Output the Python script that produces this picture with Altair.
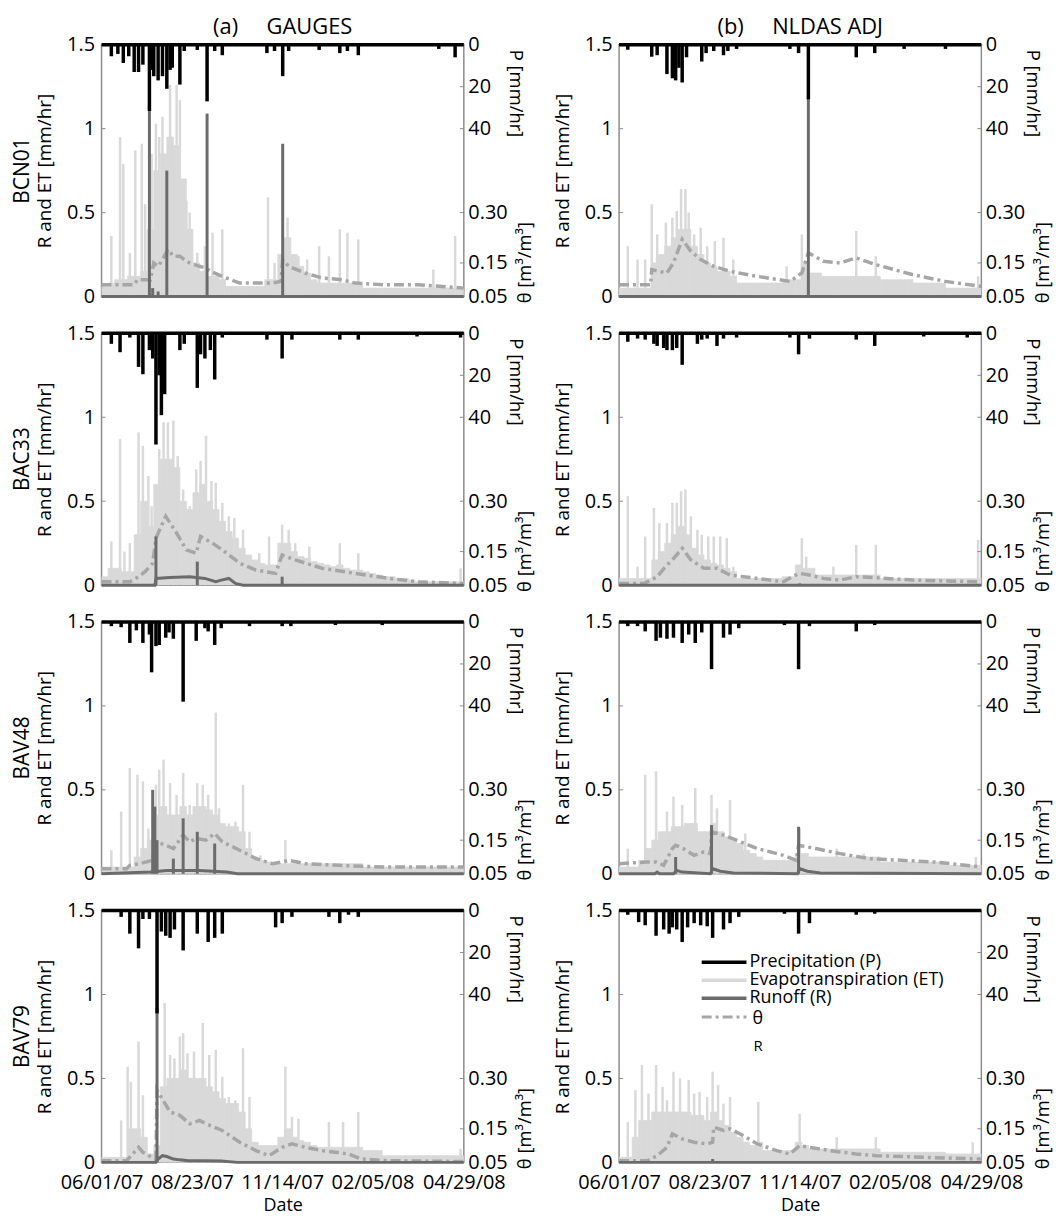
import altair as alt
import pandas as pd

FONT = "Open Sans"
SITES = ["BCN01", "BAC33", "BAV48", "BAV79"]
SOURCES = ["GAUGES", "NLDAS ADJ"]
COL_TAGS = ["(a)", "(b)"]
TICK_DAYS = [0, 83, 166, 249, 333]
TICK_LABELS = ["06/01/07", "08/23/07", "11/14/07", "02/05/08", "04/29/08"]
LEFT_TICKS = [0, 0.5, 1, 1.5]
RIGHT_TICK_POS = [1.5, 1.25, 1.0, 0.5, 0.2, 0.0]
RIGHT_TICK_LABELS = ["0", "20", "40", "0.30", "0.15", "0.05"]
ET_BIN_DAYS = 6

C_P = "#000000"
C_ET = "#d9d9d9"
C_R = "#6b6b6b"
C_TH = "#a6a6a6"
C_FRAME = "#8c8c8c"

# ---------------- BCN01 / GAUGES ----------------
BCN01_G_P_DAY = [9, 15, 20, 25, 30, 34, 38, 44, 46, 48, 52, 56, 60, 63, 65, 72, 76, 88, 97, 104, 111, 152, 159, 166.5, 172, 200, 219, 226, 236, 310, 325]
BCN01_G_P_MM = [5.5, 4.4, 8.7, 5.5, 13, 13, 9.5, 31.6, 12, 15, 17, 15, 21, 12, 11, 19, 3, 2.5, 27, 3, 5, 4, 3, 15, 3, 2.5, 4, 3, 5, 2, 6]
BCN01_G_ET_ENV = [0.06, 0.08, 0.1, 0.1, 0.12, 0.12, 0.15, 0.4, 0.75, 0.85, 0.95, 0.9, 0.7, 0.4, 0.2, 0.15, 0.12, 0.12, 0.1,
                  0.06, 0.06, 0.06, 0.06, 0.06, 0.06, 0.1, 0.1, 0.25, 0.35, 0.25, 0.18, 0.14, 0.1,
                  0.08, 0.08, 0.08, 0.08, 0.08, 0.08, 0.08,
                  0.05, 0.05, 0.05, 0.05, 0.05, 0.05, 0.05, 0.05, 0.05, 0.05, 0.05, 0.05, 0.05, 0.05, 0.05, 0.05]
BCN01_G_ET_SPK_DAY = [9, 17, 20, 26, 31, 37, 40, 46, 50, 53, 56, 63, 69, 72, 78, 81, 88, 95, 102, 111, 153, 159, 171, 181, 189, 200, 209, 219, 226, 236, 305, 325]
BCN01_G_ET_SPK = [0.36, 0.95, 0.79, 0.26, 0.87, 0.91, 0.55, 0.85, 1.03, 0.95, 1.07, 1.26, 1.26, 1.17, 0.57, 0.5, 0.26, 0.3, 0.38, 0.4, 0.59, 0.2, 0.47, 0.24, 0.22, 0.3, 0.24, 0.4, 0.38, 0.34, 0.16, 0.36]
BCN01_G_R_SPK_DAY = [44, 47, 52, 60, 97, 166.5]
BCN01_G_R_SPK = [1.15, 0.05, 0.03, 0.75, 1.09, 0.91]
BCN01_G_R_DAY = [0, 333]
BCN01_G_R = [0, 0]
BCN01_G_TH_DAY = [0, 30, 33, 45, 48, 52, 56, 61, 66, 72, 76, 81, 90, 96, 100, 111, 127, 157, 165, 166.5, 172, 187, 203, 221, 233, 260, 291, 333]
BCN01_G_TH = [0.085, 0.085, 0.1, 0.1, 0.15, 0.14, 0.16, 0.19, 0.17, 0.17, 0.16, 0.15, 0.14, 0.135, 0.125, 0.11, 0.09, 0.09, 0.095, 0.16, 0.14, 0.12, 0.105, 0.1, 0.09, 0.085, 0.085, 0.075]

# ---------------- BCN01 / NLDAS ADJ ----------------
BCN01_N_P_DAY = [8, 30, 35, 44, 49, 52, 55, 58, 62, 76, 80, 87, 96, 100, 108, 157, 165, 174, 218, 235, 262, 300]
BCN01_N_P_MM = [2.4, 5.7, 5, 14, 16, 17, 11, 18, 6, 8, 4, 3, 5, 3, 2, 2, 4, 26, 6, 4, 2, 2]
BCN01_N_ET_ENV = [0.05, 0.05, 0.05, 0.05, 0.05, 0.2, 0.25, 0.3, 0.35, 0.4, 0.4, 0.3, 0.25, 0.2, 0.18, 0.15, 0.15, 0.12,
                  0.08, 0.08, 0.08, 0.08, 0.08, 0.08, 0.08, 0.1, 0.1, 0.1, 0.2, 0.14, 0.14,
                  0.12, 0.12, 0.12, 0.12, 0.12, 0.12, 0.12, 0.12, 0.12,
                  0.1, 0.1, 0.1, 0.1, 0.1, 0.08, 0.08, 0.08, 0.08, 0.08, 0.05, 0.05, 0.05, 0.05, 0.05, 0.05]
BCN01_N_ET_SPK_DAY = [8, 17, 24, 30, 35, 43, 49, 53, 57, 61, 64, 69, 75, 81, 88, 96, 105, 154, 168, 218, 236, 330]
BCN01_N_ET_SPK = [0.3, 0.22, 0.22, 0.55, 0.37, 0.44, 0.47, 0.51, 0.64, 0.64, 0.5, 0.37, 0.41, 0.3, 0.33, 0.35, 0.22, 0.18, 0.37, 0.39, 0.24, 0.12]
BCN01_N_R_SPK_DAY = [174]
BCN01_N_R_SPK = [1.18]
BCN01_N_R_DAY = [0, 333]
BCN01_N_R = [0, 0]
BCN01_N_TH_DAY = [0, 29, 30, 44, 50, 58, 66, 75, 87, 102, 127, 157, 168, 174, 188, 203, 218, 236, 270, 300, 333]
BCN01_N_TH = [0.085, 0.085, 0.13, 0.12, 0.15, 0.22, 0.185, 0.16, 0.14, 0.125, 0.11, 0.095, 0.12, 0.18, 0.155, 0.15, 0.165, 0.145, 0.115, 0.095, 0.08]

# ---------------- BAC33 / GAUGES ----------------
BAC33_G_P_DAY = [9, 17, 26, 34, 38, 44, 47, 50, 53, 55, 58, 72, 76, 88, 91, 95, 100, 104, 111, 152, 166, 175, 219, 236, 290, 330]
BAC33_G_P_MM = [5, 9, 2, 16, 19.5, 8, 12, 53, 20, 39, 29, 8, 5, 26, 10, 12, 8, 22, 2, 3, 12, 3, 3, 3, 1.5, 2]
BAC33_G_ET_ENV = [0.05, 0.1, 0.1, 0.08, 0.08, 0.3, 0.5, 0.35, 0.6, 0.75, 0.75, 0.7, 0.5, 0.45, 0.55, 0.6, 0.5, 0.45, 0.38, 0.32,
                  0.28, 0.22, 0.18, 0.15, 0.13, 0.12, 0.12, 0.25, 0.25, 0.2, 0.17, 0.16, 0.14, 0.13, 0.12, 0.11, 0.12, 0.1, 0.09, 0.09,
                  0.08, 0.07, 0.06, 0.05, 0.05, 0.04, 0.04, 0.03, 0.02, 0.02, 0.02, 0.02, 0.02, 0.02, 0.02, 0.02]
BAC33_G_ET_SPK_DAY = [9, 17, 21, 26, 34, 38, 43, 46, 53, 57, 61, 66, 70, 75, 81, 87, 91, 96, 101, 105, 111, 117, 122, 130, 145, 154, 166, 172, 178, 191, 219, 236, 330]
BAC33_G_ET_SPK = [0.26, 0.87, 0.2, 0.25, 0.91, 0.83, 0.65, 0.47, 0.81, 0.97, 0.97, 0.98, 0.77, 0.57, 0.47, 0.69, 0.74, 0.89, 0.62, 0.61, 0.49, 0.41, 0.4, 0.33, 0.19, 0.29, 0.36, 0.33, 0.25, 0.23, 0.25, 0.19, 0.1]
BAC33_G_R_SPK_DAY = [50, 88, 166]
BAC33_G_R_SPK = [0.29, 0.14, 0.05]
BAC33_G_R_DAY = [0, 49, 50, 63, 81, 95, 105, 110, 117, 123, 130, 333]
BAC33_G_R = [0, 0, 0.04, 0.045, 0.05, 0.04, 0.02, 0.03, 0.04, 0.01, 0, 0]
BAC33_G_TH_DAY = [0, 26, 34, 40, 47, 50, 59, 69, 78, 87, 91, 102, 111, 127, 142, 160, 166, 178, 203, 233, 264, 291, 333]
BAC33_G_TH = [0.06, 0.06, 0.075, 0.09, 0.115, 0.19, 0.255, 0.205, 0.155, 0.145, 0.195, 0.175, 0.155, 0.115, 0.095, 0.085, 0.14, 0.125, 0.1, 0.085, 0.07, 0.06, 0.055]

# ---------------- BAC33 / NLDAS ADJ ----------------
BAC33_N_P_DAY = [8, 17, 24, 32, 35, 41, 44, 49, 53, 58, 72, 76, 81, 90, 96, 108, 157, 165, 175, 218, 235, 280, 320]
BAC33_N_P_MM = [4, 2.5, 3, 5, 6, 7, 8, 8, 7, 15, 5, 3, 2.5, 6, 2.5, 2, 2, 10, 2.5, 3, 6, 1.5, 2]
BAC33_N_ET_ENV = [0.04, 0.04, 0.04, 0.04, 0.04, 0.15, 0.2, 0.25, 0.3, 0.35, 0.3, 0.22, 0.18, 0.15, 0.13, 0.12, 0.1, 0.08,
                  0.04, 0.04, 0.04, 0.04, 0.04, 0.04, 0.04, 0.05, 0.05, 0.12, 0.1, 0.1,
                  0.06, 0.06, 0.06, 0.06, 0.06, 0.06, 0.06, 0.06, 0.06, 0.06,
                  0.04, 0.04, 0.04, 0.04, 0.04, 0.04, 0.04, 0.04, 0.04, 0.04, 0.04, 0.04, 0.04, 0.04, 0.04, 0.04]
BAC33_N_ET_SPK_DAY = [8, 17, 24, 32, 37, 44, 49, 53, 57, 61, 66, 72, 76, 82, 87, 93, 99, 105, 168, 172, 197, 218, 236, 330]
BAC33_N_ET_SPK = [0.53, 0.11, 0.29, 0.46, 0.37, 0.37, 0.49, 0.49, 0.56, 0.57, 0.41, 0.33, 0.3, 0.29, 0.29, 0.29, 0.28, 0.11, 0.28, 0.17, 0.11, 0.24, 0.24, 0.27]
BAC33_N_R_SPK_DAY = [166]
BAC33_N_R_SPK = [0.01]
BAC33_N_R_DAY = [0, 333]
BAC33_N_R = [0, 0]
BAC33_N_TH_DAY = [0, 23, 35, 44, 49, 58, 66, 78, 90, 102, 127, 151, 159, 166, 175, 188, 203, 218, 233, 270, 333]
BAC33_N_TH = [0.055, 0.055, 0.075, 0.11, 0.125, 0.16, 0.125, 0.1, 0.1, 0.08, 0.07, 0.06, 0.075, 0.085, 0.08, 0.07, 0.065, 0.075, 0.0725, 0.065, 0.06]

# ---------------- BAV48 / GAUGES ----------------
BAV48_G_P_DAY = [9, 18, 26, 32, 38, 44, 46, 50, 53, 59, 62, 66, 75, 87, 95, 98, 104, 110, 136, 166, 174, 215, 258]
BAV48_G_P_MM = [2, 2.5, 10, 4, 10, 6, 24, 11.5, 11, 7.5, 5, 8, 38, 9, 3, 4.5, 11, 3, 2, 2, 2, 1.5, 1.5]
BAV48_G_ET_ENV = [0.04, 0.04, 0.04, 0.04, 0.04, 0.1, 0.15, 0.2, 0.35, 0.4, 0.35, 0.35, 0.4, 0.35, 0.4, 0.4, 0.38, 0.35, 0.3, 0.28,
                  0.28, 0.25, 0.15, 0.1, 0.08, 0.07,
                  0.06, 0.06, 0.06, 0.06, 0.06, 0.06, 0.06, 0.06, 0.06, 0.06, 0.06, 0.06, 0.06, 0.06,
                  0.04, 0.04, 0.04, 0.04, 0.04, 0.04, 0.04, 0.04, 0.04, 0.04, 0.04, 0.04, 0.04, 0.04, 0.04, 0.04]
BAV48_G_ET_SPK_DAY = [9, 18, 26, 33, 38, 43, 50, 53, 57, 63, 69, 75, 81, 88, 93, 98, 105, 108, 117, 123, 130, 136, 146, 169]
BAV48_G_ET_SPK = [0.14, 0.37, 0.63, 0.59, 0.55, 0.27, 0.53, 0.62, 0.68, 0.54, 0.47, 0.6, 0.41, 0.54, 0.53, 0.47, 0.96, 0.39, 0.3, 0.31, 0.53, 0.25, 0.11, 0.2]
BAV48_G_R_SPK_DAY = [47, 49, 51, 66, 75, 88, 104]
BAV48_G_R_SPK = [0.5, 0.4, 0.2, 0.09, 0.33, 0.25, 0.18]
BAV48_G_R_DAY = [0, 45, 60, 90, 115, 125, 333]
BAV48_G_R = [0, 0.01, 0.02, 0.02, 0.01, 0, 0]
BAV48_G_TH_DAY = [0, 23, 26, 35, 47, 50, 59, 66, 75, 81, 87, 96, 104, 111, 127, 142, 157, 166, 172, 187, 218, 260, 333]
BAV48_G_TH = [0.065, 0.065, 0.075, 0.08, 0.09, 0.145, 0.135, 0.125, 0.165, 0.145, 0.155, 0.15, 0.17, 0.145, 0.12, 0.095, 0.08, 0.085, 0.09, 0.08, 0.075, 0.07, 0.07]

# ---------------- BAV48 / NLDAS ADJ ----------------
BAV48_N_P_DAY = [8, 17, 24, 34, 38, 44, 50, 58, 64, 70, 76, 85, 96, 102, 110, 152, 165, 175, 218, 235]
BAV48_N_P_MM = [2, 2, 4.5, 9, 7.5, 8, 7.5, 10, 6, 10, 5, 22.5, 7.5, 6, 3, 1.5, 22.5, 2, 4.5, 1.5]
BAV48_N_ET_ENV = [0.04, 0.04, 0.04, 0.08, 0.15, 0.2, 0.25, 0.25, 0.28, 0.28, 0.3, 0.3, 0.25, 0.25, 0.3, 0.25, 0.22, 0.2, 0.18, 0.14,
                  0.12, 0.1, 0.08, 0.08, 0.08, 0.08, 0.08, 0.12, 0.12,
                  0.1, 0.1, 0.1, 0.1, 0.1, 0.1, 0.1, 0.1, 0.1, 0.1, 0.1,
                  0.07, 0.07, 0.07, 0.07, 0.07, 0.07, 0.07, 0.07, 0.07, 0.07, 0.05, 0.05, 0.05, 0.05, 0.05, 0.05]
BAV48_N_ET_SPK_DAY = [8, 24, 34, 44, 50, 58, 70, 85, 90, 96, 102, 116, 166, 200, 225, 328]
BAV48_N_ET_SPK = [0.15, 0.59, 0.61, 0.37, 0.46, 0.41, 0.51, 0.47, 0.39, 0.25, 0.44, 0.24, 0.27, 0.15, 0.12, 0.1]
BAV48_N_R_SPK_DAY = [52, 85, 165]
BAV48_N_R_SPK = [0.1, 0.29, 0.28]
BAV48_N_R_DAY = [0, 33, 35, 37, 50, 53, 58, 84, 86, 93, 105, 164, 166, 173, 185, 333]
BAV48_N_R = [0, 0, 0.01, 0, 0, 0.02, 0.01, 0, 0.03, 0.015, 0.005, 0, 0.03, 0.015, 0.005, 0]
BAV48_N_TH_DAY = [0, 26, 34, 41, 49, 52, 59, 69, 78, 84, 85, 96, 108, 127, 151, 163, 165, 181, 203, 230, 290, 333]
BAV48_N_TH = [0.08, 0.085, 0.085, 0.075, 0.125, 0.135, 0.125, 0.105, 0.115, 0.11, 0.175, 0.165, 0.15, 0.125, 0.105, 0.09, 0.135, 0.125, 0.11, 0.095, 0.085, 0.07]

# ---------------- BAV79 / GAUGES ----------------
BAV79_G_P_DAY = [18, 26, 34, 38, 44, 51, 55, 59, 63, 67, 75, 88, 98, 104, 111, 160, 166, 175, 209, 219, 227, 236]
BAV79_G_P_MM = [3, 11, 18, 4, 4, 49, 10, 12, 13, 9, 19, 11, 15, 13, 11, 8, 6, 3, 3, 6, 2, 3]
BAV79_G_ET_ENV = [0.03, 0.03, 0.03, 0.03, 0.2, 0.2, 0.15, 0.05, 0.1, 0.45, 0.5, 0.5, 0.55, 0.5, 0.5, 0.5, 0.45, 0.42, 0.38, 0.35,
                  0.35, 0.3, 0.2, 0.12, 0.1, 0.1, 0.1, 0.15, 0.2, 0.15, 0.13, 0.12, 0.1,
                  0.09, 0.09, 0.09, 0.09, 0.09, 0.09, 0.09, 0.07, 0.07, 0.07,
                  0.04, 0.04, 0.04, 0.04, 0.04, 0.04, 0.04, 0.04, 0.04, 0.04, 0.04, 0.04, 0.04]
BAV79_G_ET_SPK_DAY = [18, 24, 27, 34, 38, 58, 63, 67, 72, 75, 79, 85, 93, 99, 105, 111, 117, 123, 130, 136, 169, 175, 181, 209, 222, 236, 330]
BAV79_G_ET_SPK = [0.25, 0.57, 0.48, 0.72, 0.4, 0.95, 0.64, 0.62, 0.75, 0.77, 0.65, 0.66, 0.83, 0.64, 0.67, 0.51, 0.39, 0.37, 0.68, 0.39, 0.57, 0.27, 0.26, 0.24, 0.24, 0.3, 0.08]
BAV79_G_R_SPK_DAY = [51]
BAV79_G_R_SPK = [0.92]
BAV79_G_R_DAY = [0, 50, 52, 56, 60, 66, 72, 80, 95, 110, 125, 333]
BAV79_G_R = [0, 0, 0.02, 0.04, 0.035, 0.02, 0.015, 0.01, 0.01, 0.008, 0, 0]
BAV79_G_TH_DAY = [0, 23, 30, 34, 38, 49, 50, 51, 63, 72, 81, 90, 96, 111, 127, 142, 154, 166, 175, 187, 203, 227, 239, 264, 333]
BAV79_G_TH = [0.055, 0.055, 0.08, 0.095, 0.08, 0.06, 0.06, 0.265, 0.2, 0.19, 0.165, 0.175, 0.165, 0.145, 0.11, 0.085, 0.07, 0.095, 0.105, 0.095, 0.085, 0.075, 0.06, 0.055, 0.0525]

# ---------------- BAV79 / NLDAS ADJ ----------------
BAV79_N_P_DAY = [8, 18, 24, 34, 41, 46, 49, 53, 58, 63, 69, 75, 81, 86, 96, 102, 110, 152, 165, 175, 218, 235]
BAV79_N_P_MM = [2, 5.5, 7, 12, 9, 11, 8, 9, 15, 8, 6, 7, 7.5, 13, 9, 6, 3, 1.5, 11, 6, 2, 1.5]
BAV79_N_ET_ENV = [0.03, 0.03, 0.15, 0.25, 0.25, 0.3, 0.3, 0.3, 0.3, 0.3, 0.3, 0.28, 0.28, 0.25, 0.3, 0.25, 0.22, 0.18, 0.15, 0.12,
                  0.1, 0.12, 0.07, 0.07, 0.07, 0.07, 0.07, 0.12, 0.1,
                  0.08, 0.08, 0.08, 0.08, 0.08, 0.08, 0.08, 0.08, 0.08, 0.08, 0.08,
                  0.06, 0.06, 0.06, 0.06, 0.06, 0.06, 0.06, 0.06, 0.06, 0.06, 0.05, 0.05, 0.05, 0.05, 0.05, 0.05]
BAV79_N_ET_SPK_DAY = [8, 15, 21, 27, 34, 40, 44, 50, 56, 64, 69, 74, 81, 86, 91, 96, 102, 128, 166, 200, 236, 325]
BAV79_N_ET_SPK = [0.24, 0.43, 0.58, 0.41, 0.58, 0.45, 0.37, 0.54, 0.5, 0.49, 0.41, 0.42, 0.39, 0.54, 0.46, 0.35, 0.39, 0.36, 0.29, 0.15, 0.15, 0.12]
BAV79_N_R_SPK_DAY = [86]
BAV79_N_R_SPK = [0.02]
BAV79_N_R_DAY = [0, 333]
BAV79_N_R = [0, 0]
BAV79_N_TH_DAY = [0, 26, 35, 44, 49, 58, 69, 81, 86, 87, 96, 102, 114, 127, 145, 157, 166, 175, 194, 218, 236, 280, 333]
BAV79_N_TH = [0.055, 0.055, 0.07, 0.095, 0.135, 0.12, 0.11, 0.105, 0.11, 0.155, 0.145, 0.15, 0.13, 0.105, 0.085, 0.075, 0.1, 0.095, 0.085, 0.075, 0.07, 0.065, 0.06]

G = globals()

W, H = 364, 253
XS = alt.Scale(domain=[TICK_DAYS[0], TICK_DAYS[-1]], nice=False, zero=False)
YS = alt.Scale(domain=[0, 1.5], nice=False, zero=False)

XEXPR = "".join(f"datum.value == {d} ? '{l}' : " for d, l in zip(TICK_DAYS, TICK_LABELS)) + "''"
REXPR = "".join(f"datum.value == {p} ? '{l}' : " for p, l in zip(RIGHT_TICK_POS, RIGHT_TICK_LABELS)) + "''"


def one():
    return alt.Data(values=[{"k": 1}])


def text_at(txt, x, y, angle=0, size=19, align="center", baseline="middle"):
    kw = dict(text=txt, fontSize=size, align=align, baseline=baseline, font=FONT, color="black")
    if angle:
        kw["angle"] = angle
    return alt.Chart(one()).mark_text(**kw).encode(x=alt.value(x), y=alt.value(y))


def panel(site, col, row):
    key = f"{site}_{'G' if col == 0 else 'N'}"
    bottom = row == len(SITES) - 1

    if bottom:
        xaxis = alt.Axis(values=TICK_DAYS, labelExpr=XEXPR, title="Date", labelFlush=False,
                         labelOverlap=False, labelPadding=10, titleX=W / 2, titleY=43,
                         titleFontSize=18, titleBaseline="middle", titleAlign="center")
    else:
        xaxis = alt.Axis(values=TICK_DAYS, labels=False, title=None)

    def X(f):
        return alt.X(f, type="quantitative", scale=XS, axis=xaxis)

    yaxis_left = alt.Axis(values=LEFT_TICKS, format="~g", title="R and ET [mm/hr]",
                          titleX=-57, titleY=H / 2, titleAngle=270, titleAlign="center",
                          titleBaseline="middle", labelPadding=7)
    yaxis_right = alt.Axis(orient="right", values=RIGHT_TICK_POS, labelExpr=REXPR,
                           title=None, labelPadding=4)

    env = G[key + "_ET_ENV"]
    df_env = pd.DataFrame({
        "start": [i * ET_BIN_DAYS for i in range(len(env))],
        "end": [(i + 1) * ET_BIN_DAYS for i in range(len(env))],
        "et": env,
    })
    df_env["base"] = 0.0
    df_ets = pd.DataFrame({"day": G[key + "_ET_SPK_DAY"], "et": G[key + "_ET_SPK"]})
    df_ets["base"] = 0.0
    df_th = pd.DataFrame({"day": G[key + "_TH_DAY"], "theta": G[key + "_TH"]})
    df_r = pd.DataFrame({"day": G[key + "_R_DAY"], "r": G[key + "_R"]})
    df_rs = pd.DataFrame({"day": G[key + "_R_SPK_DAY"], "r": G[key + "_R_SPK"]})
    df_rs["base"] = 0.0
    df_p = pd.DataFrame({"day": G[key + "_P_DAY"], "p": G[key + "_P_MM"]})
    df_p0 = pd.DataFrame({"day": [TICK_DAYS[0], TICK_DAYS[-1]], "p": [0, 0]})
    df_lt = pd.DataFrame({"v": LEFT_TICKS[1:-1]})
    df_rt = pd.DataFrame({"v": RIGHT_TICK_POS[1:-1]})

    YL = lambda f: alt.Y(f, type="quantitative", scale=YS, axis=yaxis_left)
    YN = lambda f: alt.Y(f, type="quantitative", scale=YS, axis=None)

    l_env = alt.Chart(df_env).mark_rect(color=C_ET, stroke=C_ET, strokeWidth=0.8, clip=True).encode(
        x=X("start"), x2="end", y=YL("et"), y2="base")
    l_ets = alt.Chart(df_ets).mark_rule(color=C_ET, strokeWidth=2.5).encode(
        x=X("day"), y=YL("et"), y2="base")
    lower = alt.layer(l_env, l_ets)

    theta = alt.Chart(df_th).transform_calculate(tv="2 * (datum.theta - 0.05)").mark_line(
        color=C_TH, strokeWidth=3.5, strokeDash=[10, 4, 3, 4]).encode(
        x=X("day"), y=alt.Y("tv", type="quantitative", scale=YS, axis=yaxis_right))

    l_r = alt.Chart(df_r).mark_line(color=C_R, strokeWidth=3).encode(x=X("day"), y=YN("r"))
    l_rs = alt.Chart(df_rs).mark_rule(color=C_R, strokeWidth=3).encode(x=X("day"), y=YN("r"), y2="base")
    l_p = alt.Chart(df_p).transform_calculate(pv="1.5 - datum.p / 80", ptop="1.5").mark_rule(
        color=C_P, strokeWidth=3.5).encode(x=X("day"), y=YN("pv"), y2="ptop")
    l_p0 = alt.Chart(df_p0).transform_calculate(pv="1.5 - datum.p / 80").mark_line(
        color=C_P, strokeWidth=3.5).encode(x=X("day"), y=YN("pv"))
    l_lt = alt.Chart(df_lt).mark_rule(color=C_FRAME, strokeWidth=1).encode(
        x=alt.value(0), x2=alt.value(4), y=YN("v"))
    l_rt = alt.Chart(df_rt).mark_rule(color=C_FRAME, strokeWidth=1).encode(
        x=alt.value(W - 4), x2=alt.value(W), y=YN("v"))
    upper = alt.layer(l_r, l_rs, l_p, l_p0, l_lt, l_rt)

    extras = [
        text_at("P [mm/hr]", W + 52, 49, angle=90, size=18.5),
        text_at("θ [m³/m³]", W + 62, 219, angle=270, size=18.5),
    ]
    if col == 0:
        extras.append(text_at(site, -79, H / 2, angle=270, size=21))

    if col == 1 and bottom:
        rows_y = [52, 70, 88, 107]
        styles = [
            dict(color=C_P, strokeWidth=3.5),
            dict(color=C_ET, strokeWidth=3.5),
            dict(color=C_R, strokeWidth=3.5),
            dict(color=C_TH, strokeWidth=3, strokeDash=[10, 4, 3, 4]),
        ]
        labels = ["Precipitation (P)", "Evapotranspiration (ET)", "Runoff (R)", "θ"]
        for yy, st, lab in zip(rows_y, styles, labels):
            extras.append(alt.Chart(one()).mark_rule(**st).encode(
                x=alt.value(83), x2=alt.value(128), y=alt.value(yy)))
            extras.append(text_at(lab, 131 if lab != "θ" else 134, yy + (2 if lab == "θ" else 0),
                                  size=18, align="left"))
        extras.append(text_at("R", 135, 136, size=15, align="left"))

    ch = alt.layer(lower, theta, upper, *extras).resolve_scale(y="independent").properties(
        width=W, height=H)
    if row == 0:
        ch = ch.properties(title=alt.Title(COL_TAGS[col] + "\u00a0\u00a0\u00a0\u00a0\u00a0" + SOURCES[col],
                                           fontSize=22, offset=-4, anchor="middle"))
    return ch


panels = []
for r, site in enumerate(SITES):
    for c in range(2):
        panels.append(panel(site, c, r))

chart = alt.concat(*panels, columns=2, spacing={"row": 37, "column": 156}, bounds="flush").properties(
    padding={"left": 3, "top": 4, "right": 0, "bottom": 1})

chart = chart.configure(font=FONT).configure_axis(
    labelFont=FONT, labelFontSize=20, labelColor="black",
    titleFont=FONT, titleFontSize=19, titleFontWeight="normal", titleColor="black",
    domain=False, ticks=False, grid=False,
).configure_view(stroke=C_FRAME, strokeWidth=1.5).configure_title(
    font=FONT, fontSize=22, fontWeight="normal", color="black")

chart.save("out.html", embed_options={"renderer": "svg", "actions": False})
